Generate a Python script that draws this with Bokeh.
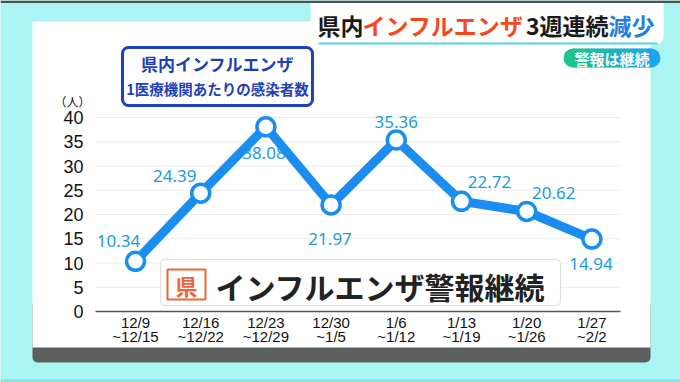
from bokeh.plotting import figure
from bokeh.models import Range1d, FixedTicker, BoxAnnotation, Label, ColumnDataSource
from bokeh.embed import file_html
from bokeh.resources import INLINE
from bokeh.core.properties import value

# ---------------- data ----------------
weeks = ["12/9\n~12/15", "12/16\n~12/22", "12/23\n~12/29", "12/30\n~1/5",
         "1/6\n~1/12", "1/13\n~1/19", "1/20\n~1/26", "1/27\n~2/2"]
cases = [10.34, 24.39, 38.08, 21.97, 35.36, 22.72, 20.62, 14.94]
y_ticks = [0, 5, 10, 15, 20, 25, 30, 35, 40]
y_unit = "（人）"
box_title_1 = "県内インフルエンザ"
box_title_2 = "1医療機関あたりの感染者数"
headline_parts = ["県内", "インフルエンザ", "3週連続", "減少"]
badge_text = "警報は継続"
banner_mark = "県"
banner_text = "インフルエンザ警報継続"

# label offsets (style, px): right / down
label_dx = [-17, -26, -2, -1, 0, 28, 27, -1]
label_dy = [-20, -17, 26, 34, -18, -19, -18, 25]

# ---------------- styling ----------------
W, H = 680, 382
CYAN = "#aaf4f4"
LINE_BLUE = "#1a8ef0"
LABEL_BLUE = "#1b9bd8"
JP = "Noto Sans CJK JP"

# chart geometry on canvas (px)
X0, DX = 135.0, 65.2        # first category centre, category spacing
Y0, DY = 311.0, 4.85        # zero line, px per unit
AX_L, AX_R = 95.0, 620.0    # extent of the x axis line


def to_x(px):
    return (px - X0) / DX


def to_y(py):
    return (Y0 - py) / DY


xs = list(range(len(weeks)))
src = ColumnDataSource(dict(x=xs, y=cases, label=[f"{v:.2f}" for v in cases],
                            dx=label_dx, dy=label_dy))

p = figure(width=W, height=H, output_backend="svg", toolbar_location=None,
           x_range=Range1d(to_x(0), to_x(W)), y_range=Range1d(to_y(H), to_y(0)))
p.min_border = 0
p.min_border_left = p.min_border_right = p.min_border_top = p.min_border_bottom = 0
p.extra_x_ranges = {"px": Range1d(0, W)}
p.extra_y_ranges = {"px": Range1d(H, 0)}

p.border_fill_color = CYAN
p.background_fill_color = CYAN
p.outline_line_color = None
p.xgrid.visible = False
p.ygrid.visible = False

# axes (drawn at fixed locations inside the frame)
xb = (to_x(AX_L), to_x(AX_R))
p.xaxis.fixed_location = 0
p.xaxis.bounds = xb
p.xaxis.ticker = FixedTicker(ticks=xs)
p.xaxis.major_label_overrides = {i: w for i, w in zip(xs, weeks)}
p.xaxis.axis_line_color = "#555555"
p.xaxis.axis_line_width = 1.5
p.xaxis.major_tick_line_color = None
p.xaxis.major_tick_out = 0
p.xaxis.major_tick_in = 0
p.xaxis.minor_tick_line_color = None
p.xaxis.major_label_standoff = 2
p.xaxis.major_label_text_font = "Liberation Sans"
p.xaxis.major_label_text_font_size = "15px"
p.xaxis.major_label_text_line_height = 0.85
p.xaxis.major_label_text_color = "#111111"

p.yaxis.fixed_location = xb[0]
p.yaxis.bounds = (0, 40)
p.yaxis.ticker = FixedTicker(ticks=y_ticks)
p.yaxis.axis_line_color = None
p.yaxis.major_tick_line_color = None
p.yaxis.major_tick_out = 0
p.yaxis.major_tick_in = 0
p.yaxis.minor_tick_line_color = None
p.yaxis.major_label_standoff = 12
p.yaxis.major_label_text_font = "Liberation Sans"
p.yaxis.major_label_text_font_size = "18px"
p.yaxis.major_label_text_color = "#111111"


def box(l, r, t, b, fill, line=None, lw=1, radius=0, level="annotation", alpha=1.0):
    bx = BoxAnnotation(left=l, right=r, top=t, bottom=b, x_range_name="px", y_range_name="px",
                       fill_color=fill, fill_alpha=alpha, line_color=line, line_alpha=1.0,
                       line_width=lw, border_radius=radius, level=level)
    p.add_layout(bx)
    return bx


def label(x, y, text, size, color, font=JP, style="bold", align="center", baseline="middle"):
    lb = Label(x=x, y=y, text=text, x_range_name="px", y_range_name="px",
               text_font=font, text_font_size=size, text_font_style=style,
               text_color=color, text_align=align, text_baseline=baseline)
    p.add_layout(lb)
    return lb


# background panel + shadow band + screen edges
box(0, W, 0, 2.5, "#4a5252", level="underlay")
box(0, W, 379, H, "#86e0e0", level="underlay")
box(32, 650, 300, 362, "#5b605e", radius=5, level="underlay")
box(32, 650, 21, 347, "#ffffff", level="underlay")

# faint horizontal grid lines at the y ticks
grid_y = [t for t in y_ticks if t > 0]
p.segment(x0=[xb[0]] * len(grid_y), x1=[xb[1]] * len(grid_y), y0=grid_y, y1=grid_y,
          line_color="#ececec", line_width=1)

# data
p.line("x", "y", source=src, line_width=9, line_color=LINE_BLUE, line_join="round")
p.scatter("x", "y", source=src, size=18, fill_color="white", line_color=LINE_BLUE, line_width=3.5)
p.text("x", "y", text="label", source=src, x_offset="dx", y_offset="dy",
       text_align="center", text_baseline="middle", text_font=value("Noto Sans"),
       text_font_size="17px", text_color=LABEL_BLUE)

# headline box
box(310, 663, 2.5, 44, "#ffffff", radius=(0, 0, 8, 0))
box(318, 657, 42, 44, "#57d3e3")
label(317, 24, headline_parts[0], "23px", "#1a1a1a", align="left")
label(362, 24, headline_parts[1], "23px", "#f5481c", align="left")
label(608, 24, headline_parts[2], "23px", "#1a1a1a", align="right")
label(608, 24, headline_parts[3], "23px", "#1d7fe0", align="left")

# badge with gradient
box(563, 583, 48, 67, "#1fc48c", radius=10)
box(640, 660, 48, 67, "#1ea6ec", radius=10)
c0, c1 = (0x1f, 0xc4, 0x8c), (0x1e, 0xa6, 0xec)
n = 26
for i in range(n):
    f = (i + 0.5) / n
    col = "#%02x%02x%02x" % tuple(int(a + (b - a) * f) for a, b in zip(c0, c1))
    box(572.5 + 3 * i, 572.5 + 3 * i + 4, 48, 67, col)
label(611.5, 57.5, badge_text, "15px", "#ffffff")

# blue title box
box(122, 312, 47, 105, "#ffffff", line="#1f40c0", lw=3, radius=6)
label(217, 63, box_title_1, "17px", "#1f3fb5")
label(217, 88, box_title_2, "14.5px", "#1f3fb5")

# unit
label(72, 101, y_unit, "12px", "#111111", style="normal")

# banner
box(160, 560, 259, 305, "#ffffff", line="#dddddd", lw=1, radius=4)
box(167, 205, 269, 299, "#ffffff", line="#ee6436", lw=2)
label(186, 284, banner_mark, "22px", "#ee6436")
label(215, 285, banner_text, "30px", "#222222", align="left")

open("out.html", "w").write(file_html(p, INLINE))
